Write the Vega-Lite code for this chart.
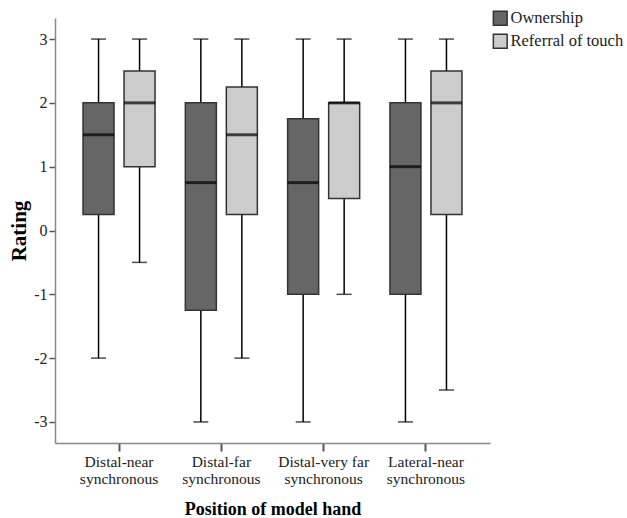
{
  "$schema": "https://vega.github.io/schema/vega-lite/v6.json",
  "width": 435,
  "height": 425,
  "autosize": {"type": "none"},
  "padding": {"left": 55, "top": 18, "right": 137, "bottom": 75},
  "background": "white",
  "config": {
    "view": {"stroke": null},
    "font": "Liberation Serif",
    "axis": {"labelFont": "Liberation Serif", "titleFont": "Liberation Serif", "grid": false, "labelColor": "#222", "titleColor": "#000"},
    "legend": {"labelFont": "Liberation Serif"}
  },
  "data": {
    "values": [
      {"position": "Distal-near synchronous", "type": "Ownership", "min": -2, "q1": 0.25, "median": 1.5, "q3": 2, "max": 3},
      {"position": "Distal-near synchronous", "type": "Referral of touch", "min": -0.5, "q1": 1, "median": 2, "q3": 2.5, "max": 3},
      {"position": "Distal-far synchronous", "type": "Ownership", "min": -3, "q1": -1.25, "median": 0.75, "q3": 2, "max": 3},
      {"position": "Distal-far synchronous", "type": "Referral of touch", "min": -2, "q1": 0.25, "median": 1.5, "q3": 2.25, "max": 3},
      {"position": "Distal-very far synchronous", "type": "Ownership", "min": -3, "q1": -1, "median": 0.75, "q3": 1.75, "max": 3},
      {"position": "Distal-very far synchronous", "type": "Referral of touch", "min": -1, "q1": 0.5, "median": 2, "q3": 2, "max": 3},
      {"position": "Lateral-near synchronous", "type": "Ownership", "min": -3, "q1": -1, "median": 1, "q3": 2, "max": 3},
      {"position": "Lateral-near synchronous", "type": "Referral of touch", "min": -2.5, "q1": 0.25, "median": 2, "q3": 2.5, "max": 3}
    ]
  },
  "encoding": {
    "x": {
      "field": "position", "type": "nominal", "sort": null,
      "scale": {"paddingInner": 0.296, "paddingOuter": 0.274},
      "axis": {
        "title": "Position of model hand",
        "titleFontSize": 18, "titleFontWeight": "bold", "titlePadding": 14,
        "labelAngle": 0, "labelFontSize": 15.5, "labelPadding": 3, "labelLineHeight": 17,
        "labelExpr": "[replace(datum.label, ' synchronous', ''), 'synchronous']",
        "domainColor": "#888", "domainWidth": 1.5, "tickColor": "#555", "tickWidth": 2, "tickSize": 8
      }
    },
    "xOffset": {"field": "type", "type": "nominal", "scale": {"paddingInner": 0.244, "paddingOuter": 0}}
  },
  "layer": [
    {
      "mark": {"type": "rule", "color": "#000", "strokeWidth": 1.5},
      "encoding": {
        "y": {
          "field": "min", "type": "quantitative",
          "scale": {"domain": [-3.33, 3.33], "nice": false, "zero": false},
          "axis": {
            "title": "Rating", "titleFontSize": 21, "titleFontWeight": "bold", "titlePadding": 4,
            "values": [-3, -2, -1, 0, 1, 2, 3], "labelFontSize": 16, "labelPadding": 2,
            "labelExpr": "'' + datum.value",
            "domainColor": "#888", "domainWidth": 1.5, "tickColor": "#555", "tickWidth": 1.5, "tickSize": 6
          }
        },
        "y2": {"field": "max"}
      }
    },
    {
      "mark": {"type": "tick", "color": "#000", "size": 15, "thickness": 1.5},
      "encoding": {"y": {"field": "min", "type": "quantitative"}}
    },
    {
      "mark": {"type": "tick", "color": "#000", "size": 15, "thickness": 1.5},
      "encoding": {"y": {"field": "max", "type": "quantitative"}}
    },
    {
      "mark": {"type": "bar", "stroke": "#333", "strokeWidth": 1.5, "opacity": 1},
      "encoding": {
        "y": {"field": "q1", "type": "quantitative"},
        "y2": {"field": "q3"},
        "color": {
          "field": "type", "type": "nominal",
          "scale": {"domain": ["Ownership", "Referral of touch"], "range": ["#666666", "#cccccc"]},
          "legend": {
            "title": null, "orient": "none", "legendX": 437, "legendY": -8,
            "symbolType": "square", "symbolSize": 190, "symbolStrokeColor": "#333", "symbolStrokeWidth": 1.5,
            "symbolOpacity": 1, "labelFontSize": 16.5, "labelColor": "#222", "rowPadding": 2, "labelOffset": 2
          }
        }
      }
    },
    {
      "mark": {"type": "tick", "color": "#000", "size": 31, "thickness": 3},
      "encoding": {"y": {"field": "median", "type": "quantitative"}}
    }
  ]
}
